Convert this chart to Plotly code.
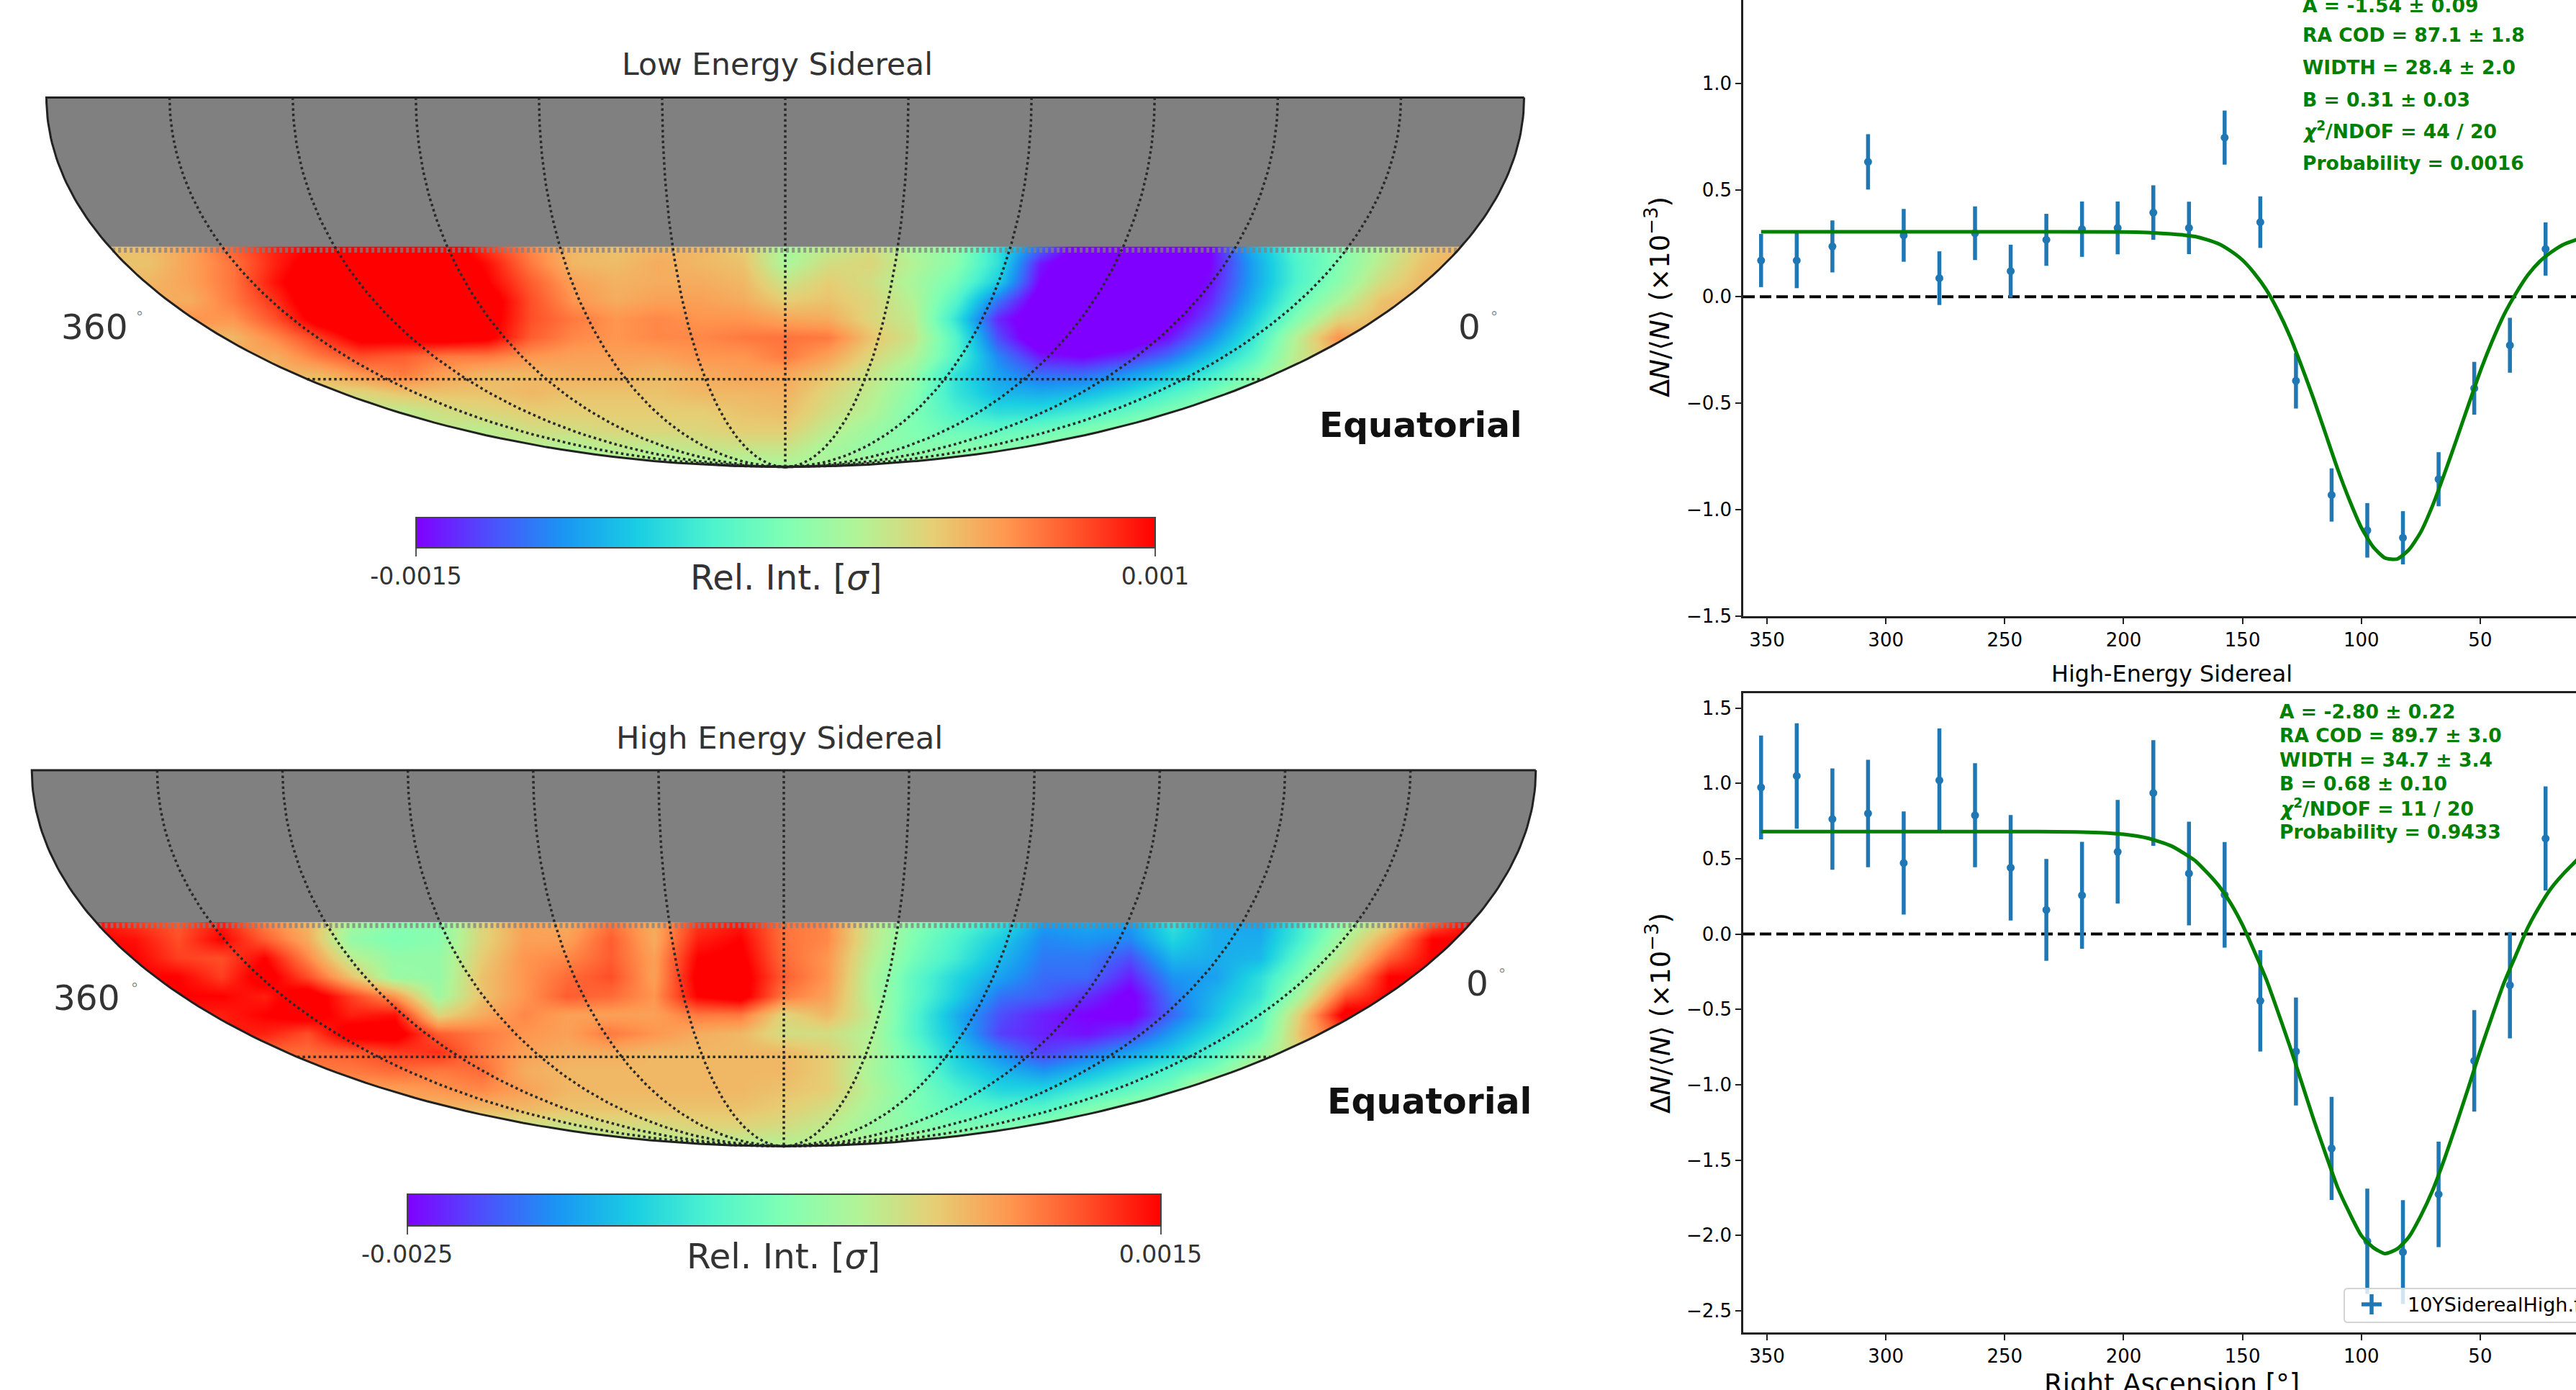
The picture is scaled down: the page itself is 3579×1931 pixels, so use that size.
import math
import plotly.graph_objects as go

W, H = 3579, 1931
FONT = "DejaVu Sans"

# ---------- right-hand panels: data ----------
ra_bins = [352.5, 337.5, 322.5, 307.5, 292.5, 277.5, 262.5, 247.5, 232.5, 217.5, 202.5, 187.5,
           172.5, 157.5, 142.5, 127.5, 112.5, 97.5, 82.5, 67.5, 52.5, 37.5, 22.5]
low_vals = [0.17, 0.17, 0.236, 0.633, 0.288, 0.087, 0.298, 0.12, 0.267, 0.317, 0.323, 0.395,
            0.323, 0.747, 0.35, -0.395, -0.931, -1.097, -1.132, -0.857, -0.43, -0.228, 0.224]
low_errs = [0.125, 0.13, 0.122, 0.13, 0.124, 0.126, 0.126, 0.124, 0.122, 0.13, 0.124, 0.128,
            0.123, 0.127, 0.121, 0.13, 0.125, 0.128, 0.125, 0.127, 0.124, 0.129, 0.125]
high_vals = [0.973, 1.049, 0.763, 0.80, 0.471, 1.02, 0.788, 0.44, 0.16, 0.257, 0.546, 0.936,
             0.402, 0.26, -0.443, -0.779, -1.422, -2.038, -2.11, -1.727, -0.841, -0.339, 0.634]
high_errs = [0.344, 0.35, 0.336, 0.356, 0.342, 0.344, 0.345, 0.35, 0.338, 0.355, 0.344, 0.35,
             0.344, 0.35, 0.336, 0.358, 0.342, 0.349, 0.344, 0.35, 0.337, 0.353, 0.345]

low_fit_ra = [352.5, 300, 250, 200, 190, 180, 175, 170, 165, 160, 155, 150, 145, 140, 135, 130, 125, 120,
              115, 110, 105, 100, 95, 90, 85, 80, 75, 70, 65, 60, 55, 50, 45, 40, 35, 30, 25, 20, 15, 10, 7.5]
low_fit = [0.305, 0.305, 0.305, 0.304, 0.301, 0.295, 0.29, 0.283, 0.268, 0.248, 0.215, 0.172, 0.11, 0.033,
           -0.067, -0.187, -0.33, -0.482, -0.645, -0.808, -0.955, -1.084, -1.175, -1.227, -1.232, -1.188,
           -1.105, -0.98, -0.83, -0.672, -0.51, -0.351, -0.21, -0.085, 0.015, 0.101, 0.165, 0.21, 0.245,
           0.266, 0.275]
high_fit_ra = [352.5, 300, 250, 220, 210, 200, 190, 180, 175, 170, 165, 160, 155, 150, 145, 140, 135, 130, 125,
               120, 115, 110, 105, 100, 95, 90, 85, 80, 75, 70, 65, 60, 55, 50, 45, 40, 35, 30, 25, 20, 15, 10, 7.5]
high_fit = [0.68, 0.68, 0.68, 0.678, 0.673, 0.662, 0.637, 0.585, 0.54, 0.488, 0.41, 0.321, 0.205, 0.061,
            -0.115, -0.30, -0.52, -0.748, -0.99, -1.233, -1.46, -1.68, -1.85, -2.0, -2.08, -2.12, -2.09,
            -2.01, -1.87, -1.70, -1.49, -1.26, -1.02, -0.775, -0.545, -0.324, -0.14, 0.042, 0.185, 0.307,
            0.40, 0.48, 0.52]

low_stats = ["A = -1.54 ± 0.09", "RA COD = 87.1 ± 1.8", "WIDTH = 28.4 ± 2.0", "B = 0.31 ± 0.03",
             "<i>χ</i><sup>2</sup>/NDOF = 44 / 20", "Probability = 0.0016"]
high_stats = ["A = -2.80 ± 0.22", "RA COD = 89.7 ± 3.0", "WIDTH = 34.7 ± 3.4", "B = 0.68 ± 0.10",
              "<i>χ</i><sup>2</sup>/NDOF = 11 / 20", "Probability = 0.9433"]

# ---------- sky maps: colour-scale position (percent) read on a grid over the projected map ----------
# rows run from declination -30 edge down to the south pole, columns from left (RA 360) to right (RA 0)
low_map = [
 [72,73,78,88,96,100,105,105,105,92,82,74,72,74,74,70,58,62,66,58,53,35,15,-5,-5,-5,0,25,42,50,60,70,75],
 [72,72,78,85,96,105,108,108,108,98,84,74,73,76,74,72,58,66,68,60,52,35,3,-8,-8,-8,0,22,40,50,62,72,76],
 [74,74,78,85,98,108,110,110,110,100,88,78,75,76,76,74,64,70,66,58,48,30,0,-8,-8,-8,2,22,40,52,66,74,74],
 [76,76,76,84,94,108,110,110,110,105,90,80,76,78,78,76,70,72,68,60,42,15,-5,-8,-8,-8,5,25,44,58,72,76,76],
 [80,80,80,80,90,104,110,110,110,104,90,84,80,82,80,80,77,76,68,62,36,5,-8,-8,-8,-5,10,30,50,68,74,74,74],
 [74,74,74,74,82,92,103,103,105,102,88,82,80,82,82,84,85,84,72,64,42,10,-8,-8,-8,2,18,36,60,80,74,74,74],
 [76,76,76,76,76,84,90,88,84,84,80,78,78,78,80,80,84,78,68,60,42,18,3,0,5,14,28,42,62,74,74,74,74],
 [74,74,74,74,74,74,80,84,78,74,74,76,76,74,76,78,77,72,64,55,35,22,14,14,20,28,38,50,64,64,64,64,64],
 [68,68,68,68,68,68,68,72,72,72,74,72,72,72,74,74,75,68,62,52,36,26,24,26,32,40,48,58,58,58,58,58,58],
 [62,62,62,62,62,62,62,62,66,68,70,70,70,70,70,72,73,66,60,50,40,34,34,38,44,50,56,56,56,56,56,56,56],
 [62,62,62,62,62,62,62,62,62,62,66,66,68,68,68,70,70,62,56,50,46,44,46,50,54,56,56,56,56,56,56,56,56],
 [60,60,60,60,60,60,60,60,60,60,60,60,62,62,64,64,64,58,54,52,52,52,54,56,56,56,56,56,56,56,56,56,56],
 [58,58,58,58,58,58,58,58,58,58,58,58,58,58,58,58,58,58,58,58,58,58,58,58,58,58,58,58,58,58,58,58,58],
]
high_map = [
 [98,92,88,96,82,74,58,52,52,68,78,76,84,76,92,96,85,82,64,52,44,36,22,24,22,36,24,22,38,54,68,86,100],
 [100,98,90,100,88,76,54,50,52,68,78,78,88,76,96,100,85,82,64,50,40,30,18,20,18,32,24,24,40,60,78,100,100],
 [100,100,92,90,100,82,62,54,54,70,80,82,88,78,100,102,86,80,62,48,38,26,16,16,10,26,24,26,46,66,88,100,100],
 [100,100,100,92,104,90,72,55,54,72,80,86,90,78,102,104,88,80,60,44,32,22,14,14,4,20,22,34,52,76,100,100,100],
 [100,100,100,100,96,106,92,80,56,72,80,88,86,80,100,104,84,78,60,44,30,15,12,6,-2,16,26,36,60,90,100,100,100],
 [96,96,96,96,100,104,96,98,68,76,82,78,78,78,84,84,68,74,62,42,24,10,4,0,-2,14,28,42,72,104,100,100,100],
 [96,96,96,96,96,90,104,104,88,84,80,78,84,80,76,74,66,66,60,42,26,8,4,2,8,22,34,46,74,90,90,90,90],
 [86,86,86,86,86,86,88,92,94,84,78,76,76,74,74,74,74,70,60,46,30,18,8,14,22,30,42,54,70,70,70,70,70],
 [84,84,84,84,84,84,84,86,84,86,76,74,74,74,74,74,74,70,58,48,34,26,20,26,34,42,50,66,66,66,66,66,66],
 [78,78,78,78,78,78,78,78,80,82,78,74,74,74,74,74,72,70,60,50,40,32,32,38,44,50,72,72,72,72,72,72,72],
 [74,74,74,74,74,74,74,74,74,74,74,72,72,72,72,72,70,66,58,50,44,42,42,50,56,60,60,60,60,60,60,60,60],
 [64,64,64,64,64,64,64,64,64,64,64,64,66,66,68,68,66,62,56,52,50,50,54,58,58,58,58,58,58,58,58,58,58],
 [60,60,60,60,60,60,60,60,60,60,60,60,60,60,60,60,60,60,60,60,60,60,60,60,60,60,60,60,60,60,60,60,60],
]
low_range = (-0.0015, 0.001)
low_ticks = ["-0.0015", "0.001"]
high_range = (-0.0025, 0.0015)
high_ticks = ["-0.0025", "0.0015"]
ra_grid = [0, 30, 60, 90, 120, 150, 180, 210, 240, 270, 300, 330, 360]
dec_grid = [-60]
dec_edge = -30

for tbl in (low_map, high_map):
    assert len(tbl) == 13 and all(len(r) == 33 for r in tbl), [len(r) for r in tbl]

rainbow = [[0.0, "rgb(128,0,255)"], [0.1, "rgb(77,79,252)"], [0.2, "rgb(26,150,243)"], [0.3, "rgb(26,206,227)"],
           [0.4, "rgb(77,243,206)"], [0.5, "rgb(128,255,180)"], [0.6, "rgb(179,243,150)"], [0.7, "rgb(230,206,116)"],
           [0.8, "rgb(255,150,79)"], [0.9, "rgb(255,79,40)"], [1.0, "rgb(255,0,0)"]]


def moll(ra, dec):
    """Mollweide projection, RA 360 on the left, normalised to the unit half-axes."""
    phi = math.radians(dec)
    t = phi
    if abs(abs(dec) - 90) >= 1e-9:
        for _ in range(60):
            t -= (2 * t + math.sin(2 * t) - math.pi * math.sin(phi)) / (2 + 2 * math.cos(2 * t))
    return (180 - ra) / 180 * math.cos(t), math.sin(t)


def dom_x(a, b):
    return [a / W, b / W]


def dom_y(top, bottom):
    return [1 - bottom / H, 1 - top / H]


fig = go.Figure()
annots, shapes = [], []


def text(px, py, s, size, anchor="center", color="black", family=FONT, angle=0):
    annots.append(dict(xref="paper", yref="paper", x=px / W, y=1 - py / H, text=s, showarrow=False,
                       xanchor=anchor, yanchor="middle", borderpad=0, borderwidth=0, textangle=angle,
                       font=dict(family=family, size=size, color=color)))


# ---------- ratio panels ----------
def ratio_panel(n, box, yrange, ytick, ra, vals, errs, fit_ra, fit, stats, sx, sy, top_line):
    xa, ya = ("x" if n == 1 else f"x{n}"), ("y" if n == 1 else f"y{n}")
    axis = dict(showgrid=False, zeroline=False, showline=True, linecolor="#222222", linewidth=2.5, ticks="outside",
                ticklen=8, tickwidth=2, tickcolor="#222222", tickfont=dict(family=FONT, size=26, color="black"))
    fig.update_layout({("xaxis" if n == 1 else f"xaxis{n}"): dict(axis, domain=dom_x(box[0], box[1]), range=[360, 9.7],
                       tickvals=[350, 300, 250, 200, 150, 100, 50], anchor=ya, mirror=top_line),
                       ("yaxis" if n == 1 else f"yaxis{n}"): dict(axis, domain=dom_y(box[2], box[3]), range=yrange,
                       tickvals=ytick, tickformat=".1f", anchor=xa)})
    fig.add_trace(go.Scatter(x=[360, 9.7], y=[0, 0], mode="lines", xaxis=xa, yaxis=ya, showlegend=False,
                             line=dict(color="black", width=4, dash="16px,7px")))
    fig.add_trace(go.Scatter(x=ra, y=vals, mode="markers", xaxis=xa, yaxis=ya, showlegend=False,
                             marker=dict(color="#1f77b4", size=11),
                             error_y=dict(type="data", array=errs, width=0, thickness=5.5, color="#1f77b4")))
    fig.add_trace(go.Scatter(x=fit_ra, y=fit, mode="lines", xaxis=xa, yaxis=ya, showlegend=False,
                             line=dict(color="green", width=5, shape="spline", smoothing=0.6)))
    for i, s in enumerate(stats):
        text(sx, sy[i], f"<b>{s}</b>", 26.6, "left", "green")


ratio_panel(1, (2422, 3579, 0, 856), [-1.5, 1.393], [-1.5, -1.0, -0.5, 0.0, 0.5, 1.0], ra_bins, low_vals, low_errs,
            low_fit_ra, low_fit, low_stats, 3199, [7, 49, 93.7, 138, 181, 226.6], False)
ratio_panel(2, (2422, 3579, 963, 1851), [-2.643, 1.598], [-2.5, -2.0, -1.5, -1.0, -0.5, 0.0, 0.5, 1.0, 1.5], ra_bins,
            high_vals, high_errs, high_fit_ra, high_fit, high_stats, 3167, [988, 1021.6, 1055, 1088.7, 1121.6, 1155],
            True)

ylab = "Δ<i>N</i>/⟨<i>N</i>⟩ (×10<sup>−3</sup>)"
text(2304, 413, ylab, 37, angle=-90)
text(2304, 1408, ylab, 37, angle=-90)
text(3017, 936, "High-Energy Sidereal", 31.8)
text(3017, 1922, "Right Ascension [°]", 37)


# legend (runs off the right edge of the picture)
def fx(p):
    return p / W


def fy(p):
    return 1 - p / H


r = 5
lx0, lx1, ly0, ly1 = 3257, 3600, 1790, 1837
legend_path = (f"M {fx(lx0 + r)} {fy(ly0)} L {fx(lx1)} {fy(ly0)} L {fx(lx1)} {fy(ly1)} L {fx(lx0 + r)} {fy(ly1)} "
               f"Q {fx(lx0)} {fy(ly1)} {fx(lx0)} {fy(ly1 - r)} L {fx(lx0)} {fy(ly0 + r)} "
               f"Q {fx(lx0)} {fy(ly0)} {fx(lx0 + r)} {fy(ly0)} Z")
shapes.append(dict(type="path", xref="paper", yref="paper", path=legend_path, fillcolor="rgba(255,255,255,0.8)",
                   line=dict(color="#d4d4d4", width=2), layer="above"))
for dx0, dy0, dx1, dy1 in [(-14, 0, 14, 0), (0, -14, 0, 14)]:
    shapes.append(dict(type="line", xref="paper", yref="paper", x0=fx(3295 + dx0), x1=fx(3295 + dx1),
                       y0=fy(1812 + dy0), y1=fy(1812 + dy1), line=dict(color="#1f77b4", width=5.5), layer="above"))
text(3345, 1812, "10YSiderealHigh.f", 27, "left")


# ---------- sky maps ----------
GRID_X = [-0.92 + 0.0575 * i for i in range(33)]
GRID_Y = [-1.0 + 0.05 * i for i in range(13)]


def sky_panel(n, cx, a, top, table, rng, tick_txt, bar):
    b = a / 2
    xa, ya = f"x{n}", f"y{n}"
    padx, pady = 0.03, 0.05
    hidden = dict(visible=False, showgrid=False, zeroline=False)
    fig.update_layout({f"xaxis{n}": dict(hidden, domain=dom_x(cx - (1 + padx) * a, cx + (1 + padx) * a),
                                         range=[-1 - padx, 1 + padx], anchor=ya),
                       f"yaxis{n}": dict(hidden, domain=dom_y(top - pady * b, top + (1 + pady) * b),
                                         range=[-1 - pady, pady], anchor=xa)})
    vmin, vmax = rng
    z = [[vmin + (vmax - vmin) * v / 100 for v in row] for row in reversed(table)]
    fig.add_trace(go.Heatmap(x=GRID_X, y=GRID_Y, z=z, zmin=vmin, zmax=vmax, colorscale=rainbow, zsmooth="best",
                             xaxis=xa, yaxis=ya,
                             colorbar=dict(orientation="h", lenmode="fraction", len=(bar[1] - bar[0]) / W, x=bar[0] / W,
                                           xanchor="left", xref="paper", yref="paper", y=1 - bar[4] / H, yanchor="top",
                                           thicknessmode="pixels", thickness=bar[3] - bar[2], xpad=0, ypad=0,
                                           outlinewidth=2, outlinecolor="#444444", tickvals=list(rng), ticktext=tick_txt,
                                           ticks="outside", ticklen=11, tickwidth=2, tickcolor="#555555",
                                           tickfont=dict(family=FONT, size=33, color="#333333"))))
    # white outside the sky
    arc = [moll(0, d) for d in [dec_edge + 6 - i for i in range(0, 67)]]
    for side in (1, -1):
        px = [abs(p[0]) * side for p in arc] + [0, side * (1 + padx), side * (1 + padx)]
        py = [p[1] for p in arc] + [-1 - pady, -1 - pady, arc[0][1]]
        fig.add_trace(go.Scatter(x=px, y=py, mode="lines", fill="toself", fillcolor="white", line=dict(width=0),
                                 xaxis=xa, yaxis=ya, showlegend=False, hoverinfo="skip"))
    # unobserved part of the sky, grey
    decs = [-d for d in range(0, abs(dec_edge) + 1)]
    right = [moll(0, d) for d in decs]
    left = [moll(360, d) for d in reversed(decs)]
    gx = [p[0] for p in right] + [p[0] for p in left]
    gy = [p[1] for p in right] + [p[1] for p in left]
    fig.add_trace(go.Scatter(x=gx, y=gy, mode="lines", fill="toself", fillcolor="#808080", line=dict(width=0),
                             xaxis=xa, yaxis=ya, showlegend=False, hoverinfo="skip"))
    # frayed edge of the observed band
    ex = [moll(r_, dec_edge - 0.7)[0] for r_ in range(360, -1, -5)]
    ey = [moll(r_, dec_edge - 0.7)[1] for r_ in range(360, -1, -5)]
    fig.add_trace(go.Scatter(x=ex, y=ey, mode="lines", line=dict(color="rgba(128,128,128,0.75)", width=7, dash="4px,4px"),
                             xaxis=xa, yaxis=ya, showlegend=False, hoverinfo="skip"))
    # graticule
    dot = dict(color="#2a2a2a", width=3.5, dash="3.5px,4px")
    for r_ in ra_grid[1:-1]:
        pts = [moll(r_, -d) for d in range(0, 91)]
        fig.add_trace(go.Scatter(x=[p[0] for p in pts], y=[p[1] for p in pts], mode="lines", xaxis=xa, yaxis=ya,
                                 showlegend=False, hoverinfo="skip", line=dot))
    for d in dec_grid:
        pts = [moll(r_, d) for r_ in range(360, -1, -5)]
        fig.add_trace(go.Scatter(x=[p[0] for p in pts], y=[p[1] for p in pts], mode="lines", xaxis=xa, yaxis=ya,
                                 showlegend=False, hoverinfo="skip", line=dot))
    # outline
    decs = [-d for d in range(0, 91)]
    ox = [moll(0, d)[0] for d in decs] + [moll(360, d)[0] for d in reversed(decs)] + [moll(0, 0)[0]]
    oy = [moll(0, d)[1] for d in decs] + [moll(360, d)[1] for d in reversed(decs)] + [moll(0, 0)[1]]
    fig.add_trace(go.Scatter(x=ox, y=oy, mode="lines", line=dict(color="#222222", width=3), xaxis=xa, yaxis=ya,
                             showlegend=False, hoverinfo="skip"))


sky_panel(3, 1091, 1026.5, 135.4, low_map, low_range, low_ticks, (578, 1605, 718.5, 760, 718.5))
sky_panel(4, 1089, 1044.8, 1070, high_map, high_range, high_ticks, (565.6, 1612.7, 1659, 1703, 1659))

# map captions
GREY = "#333333"
text(1080, 90, "Low Energy Sidereal", 42.5, color=GREY)
text(1083, 1025, "High Energy Sidereal", 43.3, color=GREY)
text(131, 454, "360", 48.5, color=GREY)
text(194, 440, "°", 20, color="#888888")
text(2041, 454, "0", 48.5, color=GREY)
text(2076, 440, "°", 20, color="#888888")
text(120, 1386, "360", 48.5, color=GREY)
text(187, 1373, "°", 20, color="#888888")
text(2052, 1366, "0", 48.5, color=GREY)
text(2087, 1353, "°", 20, color="#888888")
text(1974, 590, "<b>Equatorial</b>", 48.5, color="#111111")
text(1986, 1530, "<b>Equatorial</b>", 49, color="#111111")
text(1092, 802, "Rel. Int. [<i>σ</i>]", 48, color=GREY)
text(1088, 1745, "Rel. Int. [<i>σ</i>]", 48.5, color=GREY)

fig.update_layout(width=W, height=H, margin=dict(l=0, r=0, t=0, b=0, autoexpand=False),
                  paper_bgcolor="white", plot_bgcolor="white", showlegend=False,
                  annotations=annots, shapes=shapes, font=dict(family=FONT))
fig.write_html("out.html", config={"displayModeBar": False},
               post_script="document.body.style.margin='0';document.documentElement.style.overflow='hidden';")
